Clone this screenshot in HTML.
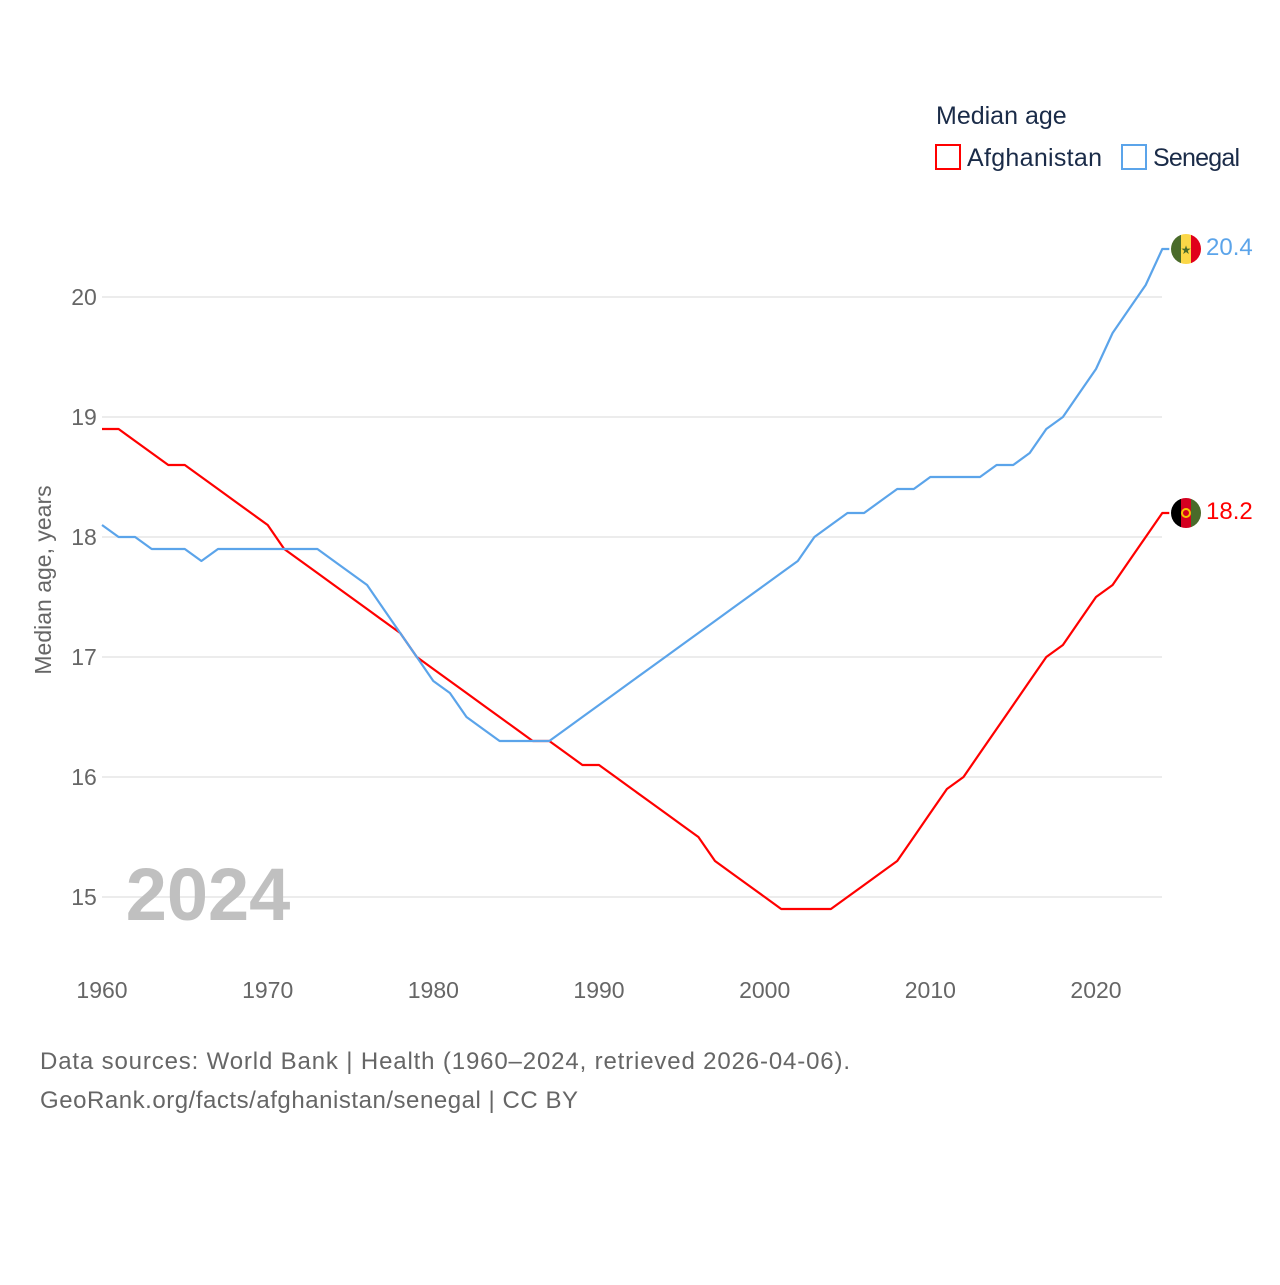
<!DOCTYPE html>
<html><head><meta charset="utf-8"><style>
body{margin:0;background:#fff;font-family:"Liberation Sans",sans-serif;}
svg text{font-family:"Liberation Sans",sans-serif;}
</style></head><body>
<svg id="chart" width="1280" height="1280" xmlns="http://www.w3.org/2000/svg">
<g id="grid"></g>
<g id="ticks"></g>
<text x="208" y="920" font-size="74" font-weight="bold" fill="#c0c0c0" text-anchor="middle">2024</text>
<text transform="translate(51,580) rotate(-90)" font-size="23" fill="#666" text-anchor="middle">Median age, years</text>
<g id="lines"></g>
<g>
<text x="936" y="124" font-size="25" fill="#1a2b48">Median age</text>
<g><rect x="936" y="145" width="24" height="24" fill="none" stroke="#ff0000" stroke-width="2"/><text x="967" y="166" font-size="25" fill="#1a2b48" textLength="135">Afghanistan</text></g>
<g><rect x="1122" y="145" width="24" height="24" fill="none" stroke="#5ba4ea" stroke-width="2"/><text x="1153" y="166" font-size="25" fill="#1a2b48" textLength="87">Senegal</text></g>
</g>
<g id="ends"></g>
<text x="40" y="1069" font-size="24" fill="#666" textLength="810">Data sources: World Bank | Health (1960–2024, retrieved 2026-04-06).</text>
<text x="40" y="1108" font-size="24" fill="#666" textLength="538">GeoRank.org/facts/afghanistan/senegal | CC BY</text>
</svg>
<script>
const years=[];for(let y=1960;y<=2024;y++)years.push(y);
const afghanistan=[18.9,18.9,18.8,18.7,18.6,18.6,18.5,18.4,18.3,18.2,18.1,17.9,17.8,17.7,17.6,17.5,17.4,17.3,17.2,17.0,16.9,16.8,16.7,16.6,16.5,16.4,16.3,16.3,16.2,16.1,16.1,16.0,15.9,15.8,15.7,15.6,15.5,15.3,15.2,15.1,15.0,14.9,14.9,14.9,14.9,15.0,15.1,15.2,15.3,15.5,15.7,15.9,16.0,16.2,16.4,16.6,16.8,17.0,17.1,17.3,17.5,17.6,17.8,18.0,18.2];
const senegal=[18.1,18.0,18.0,17.9,17.9,17.9,17.8,17.9,17.9,17.9,17.9,17.9,17.9,17.9,17.8,17.7,17.6,17.4,17.2,17.0,16.8,16.7,16.5,16.4,16.3,16.3,16.3,16.3,16.4,16.5,16.6,16.7,16.8,16.9,17.0,17.1,17.2,17.3,17.4,17.5,17.6,17.7,17.8,18.0,18.1,18.2,18.2,18.3,18.4,18.4,18.5,18.5,18.5,18.5,18.6,18.6,18.7,18.9,19.0,19.2,19.4,19.7,19.9,20.1,20.4];
const yTicks=[15,16,17,18,19,20];
const xTicks=[1960,1970,1980,1990,2000,2010,2020];
const NS='http://www.w3.org/2000/svg';
const X=y=>102+(y-1960)*(1096-102)/60;
const Y=v=>897-(v-15)*120;
function mk(tag,attrs,parent){const e=document.createElementNS(NS,tag);for(const k in attrs)e.setAttribute(k,attrs[k]);document.getElementById(parent).appendChild(e);return e;}
yTicks.forEach(t=>{
 const l=mk('line',{x1:102,x2:1162,y1:Y(t),y2:Y(t),stroke:'#e6e6e6','stroke-width':1.5},'grid');
 
 
 const tx=mk('text',{x:84,y:Y(t)+8,'font-size':23,fill:'#666','text-anchor':'middle'},'ticks');tx.textContent=t;
 
 
});
xTicks.forEach(t=>{
 const tx=mk('text',{x:X(t),y:998,'font-size':23,fill:'#666','text-anchor':'middle'},'ticks');tx.textContent=t;
 
 
});
function line(data,color,name){
 let d=data.map((v,i)=>(i?'L':'M')+X(years[i]).toFixed(1)+','+Y(v).toFixed(1)).join(' ');
 d+=' L'+(X(2024)+7)+','+Y(data[data.length-1]).toFixed(1);
 const p=mk('path',{d:d,fill:'none',stroke:color,'stroke-width':2.2,'stroke-linejoin':'round'},'lines');
 
 
}
line(afghanistan,'#ff0000','afghanistan-line');
line(senegal,'#5ba4ea','senegal-line');
function end(v,color,flag,name){
 const cy=Y(v),cx=1186;
 const g=mk('g',{},'ends');
 
 
 const id='c'+name;
 g.innerHTML=`<clipPath id="${id}"><circle cx="${cx}" cy="${cy}" r="15"/></clipPath><g clip-path="url(#${id})">`+
  flag.map((c,i)=>`<rect x="${cx-15+i*10}" y="${cy-15}" width="10" height="30" fill="${c}"/>`).join('')+`</g>`+
  (name.includes('senegal')?`<text x="${cx}" y="${cy+5}" font-size="12" fill="#4a6b2a" text-anchor="middle">★</text>`:`<circle cx="${cx}" cy="${cy}" r="4" fill="none" stroke="#f5c400" stroke-width="2"/>`)+
  `<text x="${cx+20}" y="${cy+6}" font-size="24" fill="${color}">${v.toFixed(1)}</text>`;
}
end(senegal[senegal.length-1],'#5ba4ea',['#4a6b2a','#fbd747','#e0001a'],'senegal-end-label');
end(afghanistan[afghanistan.length-1],'#ff0000',['#000','#d40020','#4a6b2a'],'afghanistan-end-label');
</script>
</body></html>
